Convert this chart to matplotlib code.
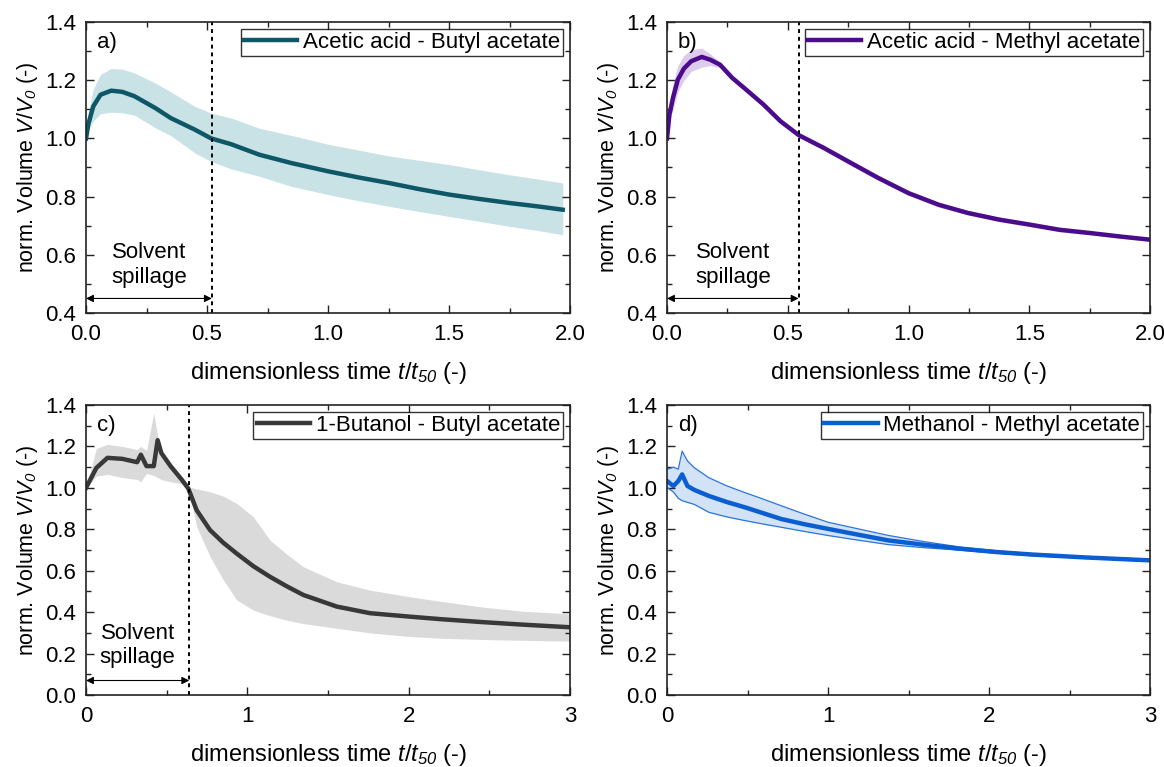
import matplotlib
matplotlib.use("Agg")
import matplotlib.pyplot as plt
from matplotlib.ticker import MultipleLocator, FormatStrFormatter

plt.rcParams["font.family"] = ["Liberation Sans", "DejaVu Sans"]
plt.rcParams["mathtext.fontset"] = "custom"
plt.rcParams["mathtext.rm"] = "Liberation Sans"
plt.rcParams["mathtext.it"] = "Liberation Sans:italic"
# \mathsf is used for italic digits (mathtext forces digits upright in \mathit)
plt.rcParams["mathtext.sf"] = "Liberation Sans:italic"
plt.rcParams["font.size"] = 16

# ---- data ----
# a) Acetic acid - Butyl acetate
a_t = [0.0, 0.01, 0.03, 0.06, 0.104, 0.15, 0.2, 0.287, 0.35, 0.45, 0.517, 0.6, 0.716, 0.85,
       1.0, 1.125, 1.25, 1.375, 1.5, 1.625, 1.75, 1.87, 1.97]
a_mean = [1.0, 1.05, 1.11, 1.15, 1.164, 1.16, 1.145, 1.104, 1.07, 1.03, 1.0, 0.98, 0.944, 0.915,
          0.887, 0.866, 0.847, 0.826, 0.807, 0.792, 0.778, 0.766, 0.755]
a_up = [1.0, 1.09, 1.17, 1.22, 1.24, 1.238, 1.225, 1.19, 1.16, 1.11, 1.087, 1.07, 1.035, 1.01,
        0.98, 0.96, 0.94, 0.925, 0.91, 0.892, 0.875, 0.86, 0.847]
a_lo = [1.0, 1.03, 1.06, 1.085, 1.09, 1.088, 1.08, 1.036, 1.01, 0.95, 0.921, 0.895, 0.87, 0.835,
        0.807, 0.786, 0.767, 0.749, 0.732, 0.715, 0.698, 0.683, 0.669]

# b) Acetic acid - Methyl acetate
b_t = [0.0, 0.01, 0.025, 0.045, 0.07, 0.1, 0.144, 0.18, 0.22, 0.27, 0.32, 0.4, 0.47, 0.546,
       0.65, 0.75, 0.875, 1.0, 1.125, 1.245, 1.375, 1.5, 1.625, 1.75, 1.875, 2.0]
b_mean = [1.0, 1.082, 1.14, 1.202, 1.24, 1.265, 1.28, 1.27, 1.253, 1.208, 1.173, 1.116, 1.059, 1.011,
          0.967, 0.921, 0.864, 0.812, 0.772, 0.744, 0.721, 0.704, 0.686, 0.675, 0.663, 0.652]
b_up = [1.0, 1.12, 1.19, 1.25, 1.285, 1.305, 1.31, 1.29, 1.262, 1.215, 1.18, 1.123, 1.066, 1.018,
        0.975, 0.93, 0.873, 0.82, 0.781, 0.752, 0.729, 0.712, 0.694, 0.682, 0.67, 0.658]
b_lo = [1.0, 1.06, 1.10, 1.16, 1.20, 1.23, 1.245, 1.25, 1.243, 1.2, 1.166, 1.109, 1.052, 1.004,
        0.959, 0.912, 0.856, 0.804, 0.764, 0.737, 0.714, 0.697, 0.679, 0.669, 0.657, 0.647]

# c) 1-Butanol - Butyl acetate
c_t = [0.0, 0.064, 0.133, 0.225, 0.317, 0.34, 0.375, 0.42, 0.444, 0.467, 0.524, 0.593, 0.634,
       0.686, 0.769, 0.851, 0.934, 1.037, 1.14, 1.244, 1.347, 1.554, 1.76, 2.01,
       2.2, 2.455, 2.7, 3.0]
c_mean = [1.0, 1.096, 1.145, 1.14, 1.124, 1.16, 1.105, 1.105, 1.23, 1.168, 1.105, 1.04, 0.997,
          0.892, 0.796, 0.735, 0.683, 0.622, 0.571, 0.525, 0.483, 0.427, 0.395, 0.378,
          0.366, 0.352, 0.34, 0.327]
c_up = [1.0, 1.19, 1.21, 1.2, 1.185, 1.2, 1.18, 1.36, 1.25, 1.17, 1.12, 1.05, 1.005,
        0.995, 0.981, 0.96, 0.925, 0.86, 0.748, 0.68, 0.619, 0.547, 0.506, 0.474,
        0.452, 0.425, 0.405, 0.391]
c_lo = [1.0, 1.056, 1.065, 1.05, 1.04, 1.03, 1.07, 1.06, 1.05, 1.04, 1.03, 1.02, 1.0,
        0.813, 0.668, 0.556, 0.459, 0.41, 0.383, 0.361, 0.345, 0.322, 0.3, 0.282,
        0.274, 0.268, 0.264, 0.26]

# d) Methanol - Methyl acetate
d_t = [0.0, 0.04, 0.07, 0.094, 0.127, 0.17, 0.26, 0.37, 0.484, 0.6, 0.708, 0.85, 1.0, 1.2,
       1.377, 1.6, 1.824, 2.05, 2.27, 2.6, 3.0]
d_mean = [1.033, 1.009, 1.033, 1.065, 1.009, 0.99, 0.961, 0.932, 0.906, 0.877, 0.85, 0.825, 0.802,
          0.772, 0.746, 0.725, 0.706, 0.69, 0.678, 0.664, 0.65]
d_up = [1.089, 1.10, 1.09, 1.177, 1.13, 1.097, 1.049, 1.01, 0.977, 0.945, 0.914, 0.874, 0.834,
        0.8, 0.77, 0.74, 0.714, 0.696, 0.682, 0.667, 0.655]
d_lo = [1.002, 0.98, 0.95, 0.938, 0.93, 0.92, 0.882, 0.86, 0.842, 0.825, 0.81, 0.79, 0.77,
        0.746, 0.726, 0.711, 0.699, 0.684, 0.672, 0.66, 0.646]

names = ["Acetic acid - Butyl acetate", "Acetic acid - Methyl acetate",
         "1-Butanol - Butyl acetate", "Methanol - Methyl acetate"]
letters = ["a)", "b)", "c)", "d)"]
spill_t = [0.52, 0.545, 0.64, None]

panels = [
    (a_t, a_mean, a_up, a_lo, "#0e5766", "#c9e2e6", None),
    (b_t, b_mean, b_up, b_lo, "#4a0c8c", "#dccbed", None),
    (c_t, c_mean, c_up, c_lo, "#383838", "#dadada", None),
    (d_t, d_mean, d_up, d_lo, "#0a5ed2", "#d2e3f8", "#2a74dc"),
]

fig = plt.figure(figsize=(11.64, 7.67), dpi=100)
W, H = 1164, 767
boxes = [(86, 22, 570, 313), (667, 22, 1150, 313), (86, 405, 570, 695), (667, 405, 1150, 695)]

for i, (t, m, up, lo, col, fcol, ecol) in enumerate(panels):
    x0, y0, x1, y1 = boxes[i]
    ax = fig.add_axes([x0 / W, 1 - y1 / H, (x1 - x0) / W, (y1 - y0) / H])
    ax.fill_between(t, lo, up, color=fcol, lw=0)
    if ecol:
        ax.plot(t, up, color=ecol, lw=0.9)
        ax.plot(t, lo, color=ecol, lw=0.9)
    ax.plot(t, m, color=col, lw=3.2, label=names[i])

    if i < 2:
        ax.set_xlim(0, 2.0)
        ax.set_ylim(0.4, 1.4)
        ax.xaxis.set_major_locator(MultipleLocator(0.5))
        ax.xaxis.set_minor_locator(MultipleLocator(0.25))
        ax.xaxis.set_major_formatter(FormatStrFormatter("%.1f"))
        arrow_y, txt_y = 0.45, 0.565
    else:
        ax.set_xlim(0, 3)
        ax.set_ylim(0.0, 1.4)
        ax.xaxis.set_major_locator(MultipleLocator(1))
        ax.xaxis.set_minor_locator(MultipleLocator(0.5))
        arrow_y, txt_y = 0.07, 0.24
    ax.yaxis.set_major_locator(MultipleLocator(0.2))
    ax.yaxis.set_minor_locator(MultipleLocator(0.1))
    ax.yaxis.set_major_formatter(FormatStrFormatter("%.1f"))
    ax.tick_params(which="both", direction="in", top=True, right=True, labelsize=16,
                   width=1, color="#222222")
    ax.tick_params(which="major", length=6)
    ax.tick_params(which="minor", length=3.5)
    ax.tick_params(axis="y", pad=7)
    ax.tick_params(axis="x", pad=8)
    for s in ax.spines.values():
        s.set_linewidth(1.2)
        s.set_color("#222222")

    ax.set_xlabel("dimensionless time $\\it{t}/\\it{t}_{\\mathsf{50}}$ (-)", fontsize=17, labelpad=11)
    ax.set_ylabel("norm. Volume $\\it{V}/\\it{V}_{\\mathsf{0}}$ (-)", fontsize=15.5, labelpad=4)
    ax.text(0.022, 0.928, letters[i], transform=ax.transAxes, fontsize=16, va="center", ha="left")

    st = spill_t[i]
    if st is not None:
        ax.axvline(st, color="black", ls=(0, (2, 2)), lw=1.4)
        ax.annotate("", xy=(0.0, arrow_y), xytext=(st, arrow_y),
                    arrowprops=dict(arrowstyle="<|-|>", color="black", lw=0.8,
                                    mutation_scale=11, shrinkA=0, shrinkB=0))
        ax.text(st / 2, txt_y, "Solvent\nspillage", ha="center", va="center",
                fontsize=16, linespacing=1.2)

    leg = ax.legend(loc="upper right", fontsize=16, frameon=True, fancybox=False,
                    handlelength=2.4, handletextpad=0.25, borderpad=0.15,
                    borderaxespad=0.3)
    leg.get_frame().set_edgecolor("black")
    leg.get_frame().set_linewidth(1.0)

fig.savefig("out.png", dpi=100)
